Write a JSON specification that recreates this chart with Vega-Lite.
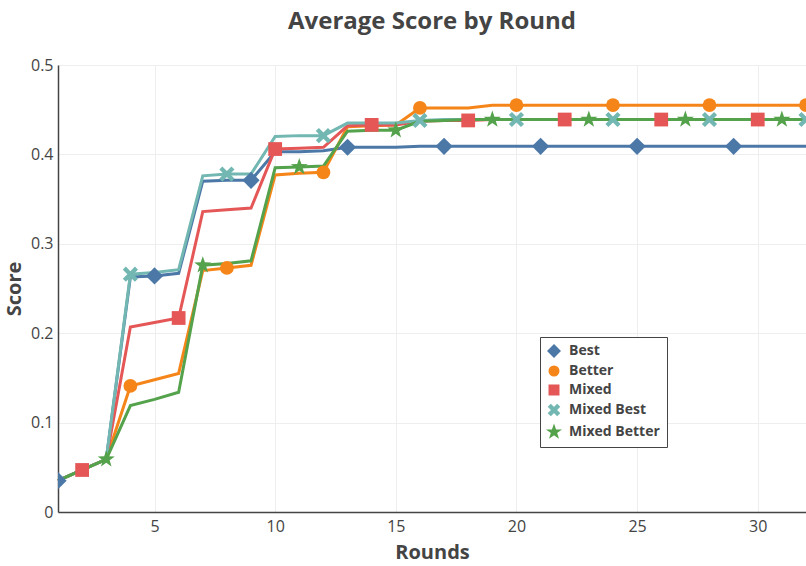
{
  "$schema": "https://vega.github.io/schema/vega-lite/v6.json",
  "width": 748,
  "height": 447,
  "autosize": {"type": "none"},
  "padding": {"left": 58, "top": 65, "right": 0, "bottom": 54},
  "background": "white",
  "config": {
    "font": "Open Sans",
    "view": {"stroke": null},
    "axis": {
      "labelFont": "Open Sans",
      "labelFontSize": 16,
      "labelColor": "#444",
      "titleFont": "Open Sans",
      "titleFontSize": 20,
      "titleFontWeight": "bold",
      "titleColor": "#444",
      "gridColor": "#eeeeee",
      "gridWidth": 1,
      "domainColor": "#444",
      "domainWidth": 1.5,
      "ticks": false
    }
  },
  "title": {
    "text": "Average Score by Round",
    "fontSize": 24,
    "fontWeight": "bold",
    "color": "#444",
    "font": "Open Sans",
    "anchor": "middle",
    "offset": 23
  },
  "data": {
    "values": [
      {"Round": 1, "Condition": "Best", "Score": 0.035}, {"Round": 2, "Condition": "Best", "Score": 0.047}, {"Round": 3, "Condition": "Best", "Score": 0.059}, {"Round": 4, "Condition": "Best", "Score": 0.263},
      {"Round": 5, "Condition": "Best", "Score": 0.264}, {"Round": 6, "Condition": "Best", "Score": 0.267}, {"Round": 7, "Condition": "Best", "Score": 0.370}, {"Round": 8, "Condition": "Best", "Score": 0.371},
      {"Round": 9, "Condition": "Best", "Score": 0.371}, {"Round": 10, "Condition": "Best", "Score": 0.403}, {"Round": 11, "Condition": "Best", "Score": 0.403}, {"Round": 12, "Condition": "Best", "Score": 0.404},
      {"Round": 13, "Condition": "Best", "Score": 0.408}, {"Round": 14, "Condition": "Best", "Score": 0.408}, {"Round": 15, "Condition": "Best", "Score": 0.408}, {"Round": 16, "Condition": "Best", "Score": 0.409},
      {"Round": 17, "Condition": "Best", "Score": 0.409}, {"Round": 18, "Condition": "Best", "Score": 0.409}, {"Round": 19, "Condition": "Best", "Score": 0.409}, {"Round": 20, "Condition": "Best", "Score": 0.409},
      {"Round": 21, "Condition": "Best", "Score": 0.409}, {"Round": 22, "Condition": "Best", "Score": 0.409}, {"Round": 23, "Condition": "Best", "Score": 0.409}, {"Round": 24, "Condition": "Best", "Score": 0.409},
      {"Round": 25, "Condition": "Best", "Score": 0.409}, {"Round": 26, "Condition": "Best", "Score": 0.409}, {"Round": 27, "Condition": "Best", "Score": 0.409}, {"Round": 28, "Condition": "Best", "Score": 0.409},
      {"Round": 29, "Condition": "Best", "Score": 0.409}, {"Round": 30, "Condition": "Best", "Score": 0.409}, {"Round": 31, "Condition": "Best", "Score": 0.409}, {"Round": 32, "Condition": "Best", "Score": 0.409},
      {"Round": 1, "Condition": "Better", "Score": 0.035}, {"Round": 2, "Condition": "Better", "Score": 0.047}, {"Round": 3, "Condition": "Better", "Score": 0.059}, {"Round": 4, "Condition": "Better", "Score": 0.141},
      {"Round": 5, "Condition": "Better", "Score": 0.148}, {"Round": 6, "Condition": "Better", "Score": 0.155}, {"Round": 7, "Condition": "Better", "Score": 0.270}, {"Round": 8, "Condition": "Better", "Score": 0.273},
      {"Round": 9, "Condition": "Better", "Score": 0.276}, {"Round": 10, "Condition": "Better", "Score": 0.377}, {"Round": 11, "Condition": "Better", "Score": 0.379}, {"Round": 12, "Condition": "Better", "Score": 0.380},
      {"Round": 13, "Condition": "Better", "Score": 0.431}, {"Round": 14, "Condition": "Better", "Score": 0.432}, {"Round": 15, "Condition": "Better", "Score": 0.433}, {"Round": 16, "Condition": "Better", "Score": 0.452},
      {"Round": 17, "Condition": "Better", "Score": 0.452}, {"Round": 18, "Condition": "Better", "Score": 0.452}, {"Round": 19, "Condition": "Better", "Score": 0.455}, {"Round": 20, "Condition": "Better", "Score": 0.455},
      {"Round": 21, "Condition": "Better", "Score": 0.455}, {"Round": 22, "Condition": "Better", "Score": 0.455}, {"Round": 23, "Condition": "Better", "Score": 0.455}, {"Round": 24, "Condition": "Better", "Score": 0.455},
      {"Round": 25, "Condition": "Better", "Score": 0.455}, {"Round": 26, "Condition": "Better", "Score": 0.455}, {"Round": 27, "Condition": "Better", "Score": 0.455}, {"Round": 28, "Condition": "Better", "Score": 0.455},
      {"Round": 29, "Condition": "Better", "Score": 0.455}, {"Round": 30, "Condition": "Better", "Score": 0.455}, {"Round": 31, "Condition": "Better", "Score": 0.455}, {"Round": 32, "Condition": "Better", "Score": 0.455},
      {"Round": 1, "Condition": "Mixed", "Score": 0.035}, {"Round": 2, "Condition": "Mixed", "Score": 0.047}, {"Round": 3, "Condition": "Mixed", "Score": 0.059}, {"Round": 4, "Condition": "Mixed", "Score": 0.207},
      {"Round": 5, "Condition": "Mixed", "Score": 0.212}, {"Round": 6, "Condition": "Mixed", "Score": 0.217}, {"Round": 7, "Condition": "Mixed", "Score": 0.336}, {"Round": 8, "Condition": "Mixed", "Score": 0.338},
      {"Round": 9, "Condition": "Mixed", "Score": 0.340}, {"Round": 10, "Condition": "Mixed", "Score": 0.406}, {"Round": 11, "Condition": "Mixed", "Score": 0.407}, {"Round": 12, "Condition": "Mixed", "Score": 0.408},
      {"Round": 13, "Condition": "Mixed", "Score": 0.432}, {"Round": 14, "Condition": "Mixed", "Score": 0.433}, {"Round": 15, "Condition": "Mixed", "Score": 0.433}, {"Round": 16, "Condition": "Mixed", "Score": 0.437},
      {"Round": 17, "Condition": "Mixed", "Score": 0.438}, {"Round": 18, "Condition": "Mixed", "Score": 0.438}, {"Round": 19, "Condition": "Mixed", "Score": 0.439}, {"Round": 20, "Condition": "Mixed", "Score": 0.439},
      {"Round": 21, "Condition": "Mixed", "Score": 0.439}, {"Round": 22, "Condition": "Mixed", "Score": 0.439}, {"Round": 23, "Condition": "Mixed", "Score": 0.439}, {"Round": 24, "Condition": "Mixed", "Score": 0.439},
      {"Round": 25, "Condition": "Mixed", "Score": 0.439}, {"Round": 26, "Condition": "Mixed", "Score": 0.439}, {"Round": 27, "Condition": "Mixed", "Score": 0.439}, {"Round": 28, "Condition": "Mixed", "Score": 0.439},
      {"Round": 29, "Condition": "Mixed", "Score": 0.439}, {"Round": 30, "Condition": "Mixed", "Score": 0.439}, {"Round": 31, "Condition": "Mixed", "Score": 0.439}, {"Round": 32, "Condition": "Mixed", "Score": 0.439},
      {"Round": 1, "Condition": "Mixed Best", "Score": 0.035}, {"Round": 2, "Condition": "Mixed Best", "Score": 0.047}, {"Round": 3, "Condition": "Mixed Best", "Score": 0.059}, {"Round": 4, "Condition": "Mixed Best", "Score": 0.266},
      {"Round": 5, "Condition": "Mixed Best", "Score": 0.268}, {"Round": 6, "Condition": "Mixed Best", "Score": 0.271}, {"Round": 7, "Condition": "Mixed Best", "Score": 0.376}, {"Round": 8, "Condition": "Mixed Best", "Score": 0.378},
      {"Round": 9, "Condition": "Mixed Best", "Score": 0.378}, {"Round": 10, "Condition": "Mixed Best", "Score": 0.420}, {"Round": 11, "Condition": "Mixed Best", "Score": 0.421}, {"Round": 12, "Condition": "Mixed Best", "Score": 0.421},
      {"Round": 13, "Condition": "Mixed Best", "Score": 0.435}, {"Round": 14, "Condition": "Mixed Best", "Score": 0.435}, {"Round": 15, "Condition": "Mixed Best", "Score": 0.435}, {"Round": 16, "Condition": "Mixed Best", "Score": 0.438},
      {"Round": 17, "Condition": "Mixed Best", "Score": 0.439}, {"Round": 18, "Condition": "Mixed Best", "Score": 0.439}, {"Round": 19, "Condition": "Mixed Best", "Score": 0.439}, {"Round": 20, "Condition": "Mixed Best", "Score": 0.439},
      {"Round": 21, "Condition": "Mixed Best", "Score": 0.439}, {"Round": 22, "Condition": "Mixed Best", "Score": 0.439}, {"Round": 23, "Condition": "Mixed Best", "Score": 0.439}, {"Round": 24, "Condition": "Mixed Best", "Score": 0.439},
      {"Round": 25, "Condition": "Mixed Best", "Score": 0.439}, {"Round": 26, "Condition": "Mixed Best", "Score": 0.439}, {"Round": 27, "Condition": "Mixed Best", "Score": 0.439}, {"Round": 28, "Condition": "Mixed Best", "Score": 0.439},
      {"Round": 29, "Condition": "Mixed Best", "Score": 0.439}, {"Round": 30, "Condition": "Mixed Best", "Score": 0.439}, {"Round": 31, "Condition": "Mixed Best", "Score": 0.439}, {"Round": 32, "Condition": "Mixed Best", "Score": 0.439},
      {"Round": 1, "Condition": "Mixed Better", "Score": 0.035}, {"Round": 2, "Condition": "Mixed Better", "Score": 0.047}, {"Round": 3, "Condition": "Mixed Better", "Score": 0.059}, {"Round": 4, "Condition": "Mixed Better", "Score": 0.119},
      {"Round": 5, "Condition": "Mixed Better", "Score": 0.126}, {"Round": 6, "Condition": "Mixed Better", "Score": 0.134}, {"Round": 7, "Condition": "Mixed Better", "Score": 0.276}, {"Round": 8, "Condition": "Mixed Better", "Score": 0.278},
      {"Round": 9, "Condition": "Mixed Better", "Score": 0.281}, {"Round": 10, "Condition": "Mixed Better", "Score": 0.385}, {"Round": 11, "Condition": "Mixed Better", "Score": 0.386}, {"Round": 12, "Condition": "Mixed Better", "Score": 0.387},
      {"Round": 13, "Condition": "Mixed Better", "Score": 0.426}, {"Round": 14, "Condition": "Mixed Better", "Score": 0.427}, {"Round": 15, "Condition": "Mixed Better", "Score": 0.427}, {"Round": 16, "Condition": "Mixed Better", "Score": 0.437},
      {"Round": 17, "Condition": "Mixed Better", "Score": 0.438}, {"Round": 18, "Condition": "Mixed Better", "Score": 0.439}, {"Round": 19, "Condition": "Mixed Better", "Score": 0.439}, {"Round": 20, "Condition": "Mixed Better", "Score": 0.439},
      {"Round": 21, "Condition": "Mixed Better", "Score": 0.439}, {"Round": 22, "Condition": "Mixed Better", "Score": 0.439}, {"Round": 23, "Condition": "Mixed Better", "Score": 0.439}, {"Round": 24, "Condition": "Mixed Better", "Score": 0.439},
      {"Round": 25, "Condition": "Mixed Better", "Score": 0.439}, {"Round": 26, "Condition": "Mixed Better", "Score": 0.439}, {"Round": 27, "Condition": "Mixed Better", "Score": 0.439}, {"Round": 28, "Condition": "Mixed Better", "Score": 0.439},
      {"Round": 29, "Condition": "Mixed Better", "Score": 0.439}, {"Round": 30, "Condition": "Mixed Better", "Score": 0.439}, {"Round": 31, "Condition": "Mixed Better", "Score": 0.439}, {"Round": 32, "Condition": "Mixed Better", "Score": 0.439}
    ]
  },
  "encoding": {
    "x": {
      "field": "Round",
      "type": "quantitative",
      "title": "Rounds",
      "scale": {"domain": [1, 32], "nice": false, "zero": false},
      "axis": {"values": [5, 10, 15, 20, 25, 30], "labelPadding": 6, "titlePadding": 8}
    },
    "y": {
      "field": "Score",
      "type": "quantitative",
      "title": "Score",
      "scale": {"domain": [0, 0.5], "nice": false},
      "axis": {"values": [0, 0.1, 0.2, 0.3, 0.4, 0.5], "format": "~g", "labelPadding": 5, "titlePadding": 6}
    },
    "color": {
      "field": "Condition",
      "type": "nominal",
      "scale": {
        "domain": ["Best", "Better", "Mixed", "Mixed Best", "Mixed Better"],
        "range": ["#4c78a8", "#f58518", "#e45756", "#72b7b2", "#54a24b"]
      },
      "legend": {
        "title": null,
        "orient": "none",
        "legendX": 482,
        "legendY": 272,
        "padding": 7,
        "strokeColor": "#444",
        "fillColor": "white",
        "labelFont": "Open Sans",
        "labelFontSize": 14,
        "labelFontWeight": "bold",
        "labelColor": "#444",
        "labelOffset": 8,
        "symbolSize": 90,
        "symbolType": "M0,-1.25L1.25,0L0,1.25L-1.25,0Z",
        "rowPadding": 3
      }
    }
  },
  "layer": [
    {
      "mark": {"type": "line", "strokeWidth": 3}
    },
    {
      "transform": [
        {"filter": "(datum.Condition == 'Best' && datum.Round % 4 == 1) || (datum.Condition == 'Better' && datum.Round % 4 == 0) || (datum.Condition == 'Mixed' && datum.Round % 4 == 2) || (datum.Condition == 'Mixed Best' && datum.Round % 4 == 0) || (datum.Condition == 'Mixed Better' && datum.Round % 4 == 3)"}
      ],
      "mark": {"type": "point", "filled": true, "opacity": 1, "size": 190, "clip": true},
      "encoding": {
        "shape": {
          "field": "Condition",
          "type": "nominal",
          "title": null,
          "scale": {
            "domain": ["Best", "Better", "Mixed", "Mixed Best", "Mixed Better"],
            "range": ["M0,-1.25L1.25,0L0,1.25L-1.25,0Z", "circle", "square", "M-1.1,-0.66L-0.66,-1.1L0,-0.44L0.66,-1.1L1.1,-0.66L0.44,0L1.1,0.66L0.66,1.1L0,0.44L-0.66,1.1L-1.1,0.66L-0.44,0Z", "M0,-1.3L0.306,-0.421L1.236,-0.402L0.494,0.161L0.764,1.052L0,0.52L-0.764,1.052L-0.494,0.161L-1.236,-0.402L-0.306,-0.421Z"]
          },
          "legend": {
            "title": null,
            "orient": "none",
            "legendX": 482,
            "legendY": 272,
            "padding": 7,
            "strokeColor": "#444",
            "fillColor": "white",
            "labelFont": "Open Sans",
            "labelFontSize": 14,
            "labelFontWeight": "bold",
            "labelColor": "#444",
            "labelOffset": 8,
            "symbolSize": 90,
            "rowPadding": 3
          }
        }
      }
    }
  ]
}
